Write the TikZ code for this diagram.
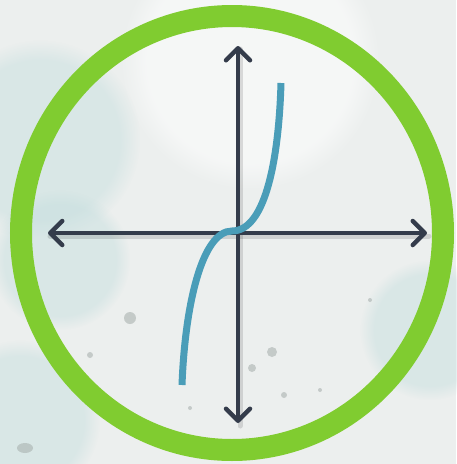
\documentclass[tikz,border=0pt]{standalone}
\usepackage{xcolor}
\usepackage{tikz}
\usetikzlibrary{arrows.meta, calc, fadings}

\definecolor{ringgreen}{RGB}{128,204,48}
\definecolor{axisgray}{RGB}{52,60,75}
\definecolor{curveteal}{RGB}{74,157,184}
\definecolor{paper}{RGB}{236,239,238}
\definecolor{wash}{RGB}{196,222,222}
\definecolor{speck}{RGB}{170,178,176}

\begin{document}
\begin{tikzpicture}[
    x=1pt, y=-1pt,
    ring/.style={draw=ringgreen, line width=22pt},
    axis/.style={draw=axisgray, line width=4.5pt, line cap=round,
        {Straight Barb[length=12pt, width=24pt, round]}-{Straight Barb[length=12pt, width=24pt, round]}},
    shadow/.style={draw=black, opacity=0.12, line width=5pt, line cap=round},
    curve/.style={draw=curveteal, line width=7pt},
    blob/.style={fill=wash, fill opacity=0.45, path fading=circle with fuzzy edge 20 percent},
    dot/.style={fill=speck, fill opacity=0.6}
]
\useasboundingbox (0,0) rectangle (456,464);

% watercolour background
\fill[paper] (0,0) rectangle (456,464);
\fill[white, fill opacity=0.5, path fading=circle with fuzzy edge 20 percent] (250,60) circle (130);
\fill[blob] (40,140) circle (100);
\fill[blob] (60,260) circle (70);
\fill[blob] (20,420) circle (80);
\fill[blob] (430,330) circle (70);
\fill[dot] (272,352) circle (5);
\fill[dot] (252,368) circle (4);
\fill[dot] (130,318) circle (6);
\fill[dot] (90,355) circle (3);
\fill[dot] (284,395) circle (3);
\fill[dot] (25,448) ellipse (8 and 5);
\fill[dot] (320,390) circle (2);
\fill[dot] (190,408) circle (2);
\fill[dot] (370,300) circle (2);

% green ring
\draw[ring] (232,233) ellipse (211 and 217);

% axis ends
\coordinate (xl) at (48,233);
\coordinate (xr) at (427,233);
\coordinate (yt) at (238,46);
\coordinate (yb) at (238,423);

% axes with soft shadow
\draw[shadow] ($(xl)+(2,3)$) -- ($(xr)+(2,3)$);
\draw[shadow] ($(yt)+(2,3)$) -- ($(yb)+(2,3)$);
\draw[axis] (xl) -- (xr);
\draw[axis] (yt) -- (yb);

% cubic curve
\coordinate (c0) at (232,231);
\coordinate (ctop) at (281,83);
\coordinate (cbot) at (182,385);
\draw[curve] (cbot) .. controls (185,305) and (202,231) .. (c0)
    .. controls (267,231) and (279,153) .. (ctop);

\end{tikzpicture}
\end{document}
